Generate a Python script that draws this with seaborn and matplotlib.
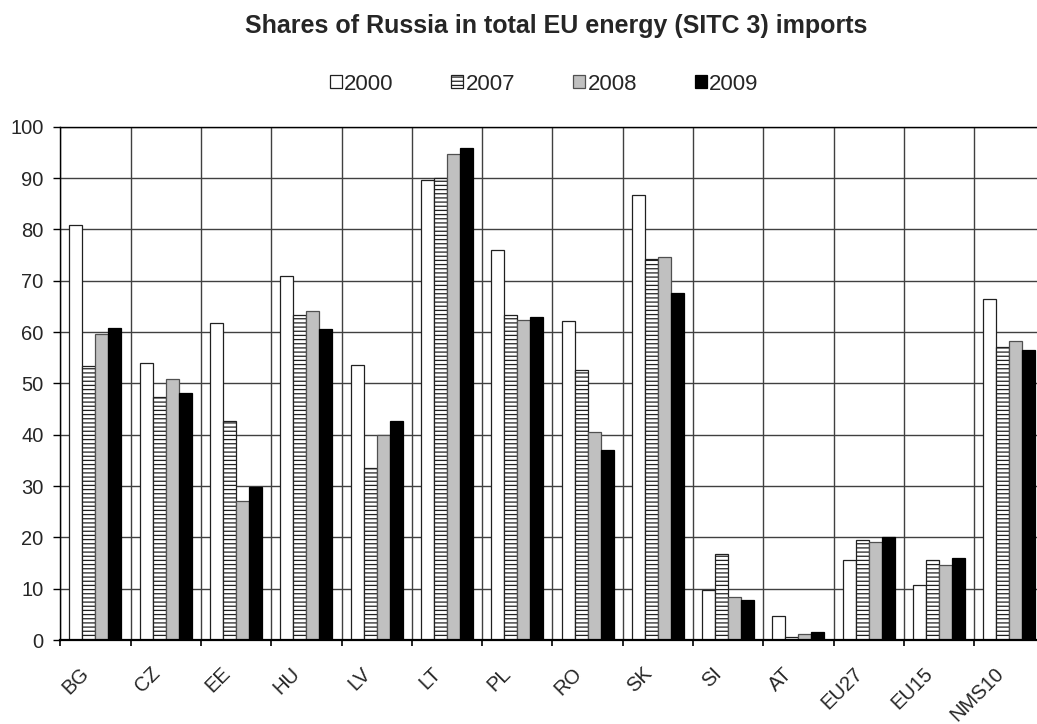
import numpy as np
import pandas as pd
import matplotlib
matplotlib.use("Agg")
import matplotlib.pyplot as plt
import seaborn as sns
from matplotlib.patches import Patch
from matplotlib.ticker import FixedLocator
from matplotlib.transforms import ScaledTranslation

countries = ["BG", "CZ", "EE", "HU", "LV", "LT", "PL", "RO", "SK", "SI", "AT", "EU27", "EU15", "NMS10"]
years = ["2000", "2007", "2008", "2009"]
share_2000 = [80.8, 53.9, 61.7, 71.0, 53.5, 89.7, 76.0, 62.2, 86.6, 9.7, 4.6, 15.5, 10.8, 66.5]
share_2007 = [53.3, 47.4, 42.7, 63.3, 33.6, 90.1, 63.4, 52.6, 74.3, 16.7, 0.6, 19.4, 15.5, 57.1]
share_2008 = [59.7, 50.8, 27.1, 64.0, 39.9, 94.6, 62.3, 40.5, 74.7, 8.4, 1.1, 19.0, 14.7, 58.3]
share_2009 = [60.8, 48.1, 29.9, 60.5, 42.7, 95.8, 63.0, 37.1, 67.6, 7.8, 1.5, 20.1, 16.0, 56.4]
title = "Shares of Russia in total EU energy (SITC 3) imports"

series = {"2000": share_2000, "2007": share_2007, "2008": share_2008, "2009": share_2009}
rows = []
for y in years:
    for c, v in zip(countries, series[y]):
        rows.append({"country": c, "year": y, "share": v})
df = pd.DataFrame(rows)

sns.set_style("white")
plt.rcParams["font.family"] = ["Liberation Sans", "DejaVu Sans"]
plt.rcParams["hatch.linewidth"] = 0.9
plt.rcParams["hatch.color"] = "black"

fig = plt.figure(figsize=(10.37, 7.24), dpi=100)
W, H = 1037, 724
ax = fig.add_axes([60.3 / W, (H - 640) / H, 984.2 / W, 513.3 / H])

fills = ["white", "white", "#c0c0c0", "black"]
edges = ["#202020", "#202020", "#505050", "black"]
sns.barplot(data=df, x="country", y="share", hue="year", order=countries,
            hue_order=years, palette=fills, saturation=1, width=0.74,
            edgecolor="#202020", linewidth=0.9, legend=False, ax=ax)
for cont, ec in zip(ax.containers, edges):
    for p in cont.patches:
        p.set_edgecolor(ec)
for p in ax.containers[1].patches:
    p.set_hatch("----")

ax.set_xlim(-0.5, len(countries) - 0.5)
ax.set_ylim(0, 100)
ax.set_yticks(np.arange(0, 101, 10))
ax.set_xticks(np.arange(len(countries)))
ax.set_xticklabels(countries)
ax.xaxis.set_minor_locator(FixedLocator(np.arange(-0.5, len(countries), 1.0)))
ax.set_xlabel("")
ax.set_ylabel("")

ax.set_axisbelow(True)
ax.grid(axis="y", which="major", color="#404040", linewidth=1)
ax.grid(axis="x", which="minor", color="#404040", linewidth=1)
ax.grid(axis="x", which="major", visible=False)

ax.tick_params(axis="y", direction="out", length=5, width=1, pad=7,
               labelsize=14.5, color="black", left=True)
ax.tick_params(axis="x", which="major", length=0, pad=22, labelsize=14.5)
ax.tick_params(axis="x", which="minor", direction="out", length=4.5, width=1.2,
               color="black", bottom=True)

for s in ["left", "top"]:
    ax.spines[s].set_color("black")
    ax.spines[s].set_linewidth(1)
ax.spines["bottom"].set_color("black")
ax.spines["bottom"].set_linewidth(1.6)
ax.spines["right"].set_visible(False)

offset = ScaledTranslation(-9 / 100, 0, fig.dpi_scale_trans)
for lbl in ax.get_xticklabels():
    lbl.set_rotation(45)
    lbl.set_ha("right")
    lbl.set_va("center")
    lbl.set_rotation_mode("anchor")
    lbl.set_transform(lbl.get_transform() + offset)

handles = [Patch(facecolor=f, edgecolor=e, linewidth=0.9, hatch=h)
           for f, e, h in zip(fills, edges, ["", "----", "", ""])]
fig.legend(handles, years, loc="center", bbox_to_anchor=(544 / W, 1 - 84 / H),
           ncol=4, frameon=False, fontsize=16, handlelength=0.55,
           handleheight=0.55, handletextpad=0.1, columnspacing=2.6,
           borderaxespad=0)

fig.text(556 / W, 1 - 33 / H, title, ha="center", va="baseline",
         fontsize=18, fontweight="bold")

fig.savefig("out.png", dpi=100)
